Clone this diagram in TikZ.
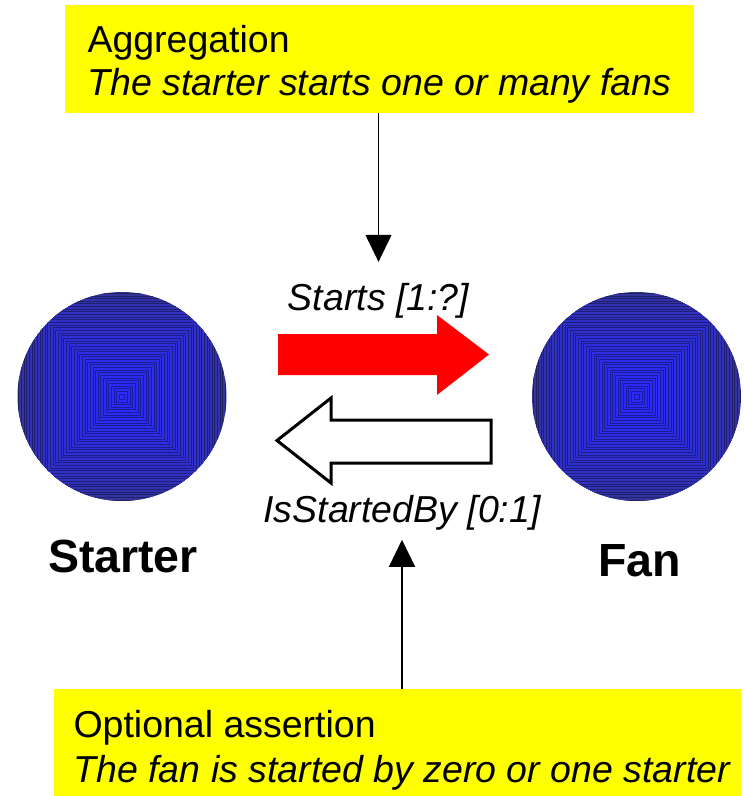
\documentclass[tikz,border=0pt]{standalone}
\usepackage{fontspec}
\setmainfont{Liberation Sans}
\usetikzlibrary{arrows.meta,calc}
\definecolor{ybg}{HTML}{FFFF00}
\definecolor{rarrow}{HTML}{FF0000}
\definecolor{edgeblue}{HTML}{363688}
\definecolor{coreblue}{HTML}{2A2AFF}
\tikzset{
  every node/.style={inner sep=0pt, outer sep=0pt},
  note/.style={fill=ybg, draw=none, anchor=north west, rectangle},
  caption/.style={font=\fontsize{37.5}{43}\selectfont, anchor=base west},
  rel/.style={font=\fontsize{37.5}{43}\selectfont\itshape, anchor=base},
  thingname/.style={font=\fontsize{46.5}{52}\selectfont\bfseries, anchor=base},
  conn/.style={line width=1.4pt, -{Triangle[length=27pt,width=26pt]}},
  thing/.style={circle, minimum size=209pt, path picture={
    \begin{scope}[shift={(path picture bounding box.center)}]
    \foreach \i in {0,...,39}{
      \pgfmathsetmacro\s{106*(1-\i/40)}
      \pgfmathsetmacro\p{100*(\i/39)^0.5}
      \filldraw[fill=coreblue!\p!edgeblue, draw=coreblue!\p!edgeblue!62!black, line width=0.6pt] (-\s,-\s) rectangle (\s,\s);
    }
    \end{scope}}},
  redarrow/.style={fill=rarrow},
  whitearrow/.style={draw=black, fill=white, line width=3pt, line join=miter},
}
\begin{document}
\begin{tikzpicture}[x=1pt, y=-1pt]
\useasboundingbox (0,0) rectangle (744,796);
% notes
\node[note, minimum width=629pt, minimum height=108pt] (agg) at (65,5) {};
\node[caption] (aggtitle) at (87.5,52) {Aggregation};
\node[caption] (aggtext) at (87.5,95) {\itshape The starter starts one or many fans};
\node[note, minimum width=687pt, minimum height=107pt] (opt) at (54,689) {};
\node[caption] (opttitle) at (73.5,737) {Optional assertion};
\node[caption] (opttext) at (73.5,782) {\itshape The fan is started by zero or one starter};
% things
\node[thing] (starter) at (122,396.5) {};
\node[thing] (fan) at (636.5,396.5) {};
\node[thingname] (startername) at (123,572) {Starter};
\node[thingname] (fanname) at (639.5,576) {Fan};
% relation labels
\node[rel] (starts) at (378.5,310) {Starts [1:?]};
\node[rel] (isb) at (402,522) {IsStartedBy [0:1]};
% block arrows
\fill[redarrow] (278,334) -- (437,334) -- (437,315) -- (489,354.5) -- (437,395) -- (437,375) -- (278,375) -- cycle;
\draw[whitearrow] (491,420) -- (331,420) -- (331,398) -- (277,440.5) -- (331,483) -- (331,463) -- (491,463) -- cycle;
% connectors
\draw[conn] (agg.south -| starts.north) -- ([yshift=21pt]starts.north);
\draw[conn] (opt.north -| isb.south) -- ([yshift=-10pt]isb.south);
\end{tikzpicture}
\end{document}
